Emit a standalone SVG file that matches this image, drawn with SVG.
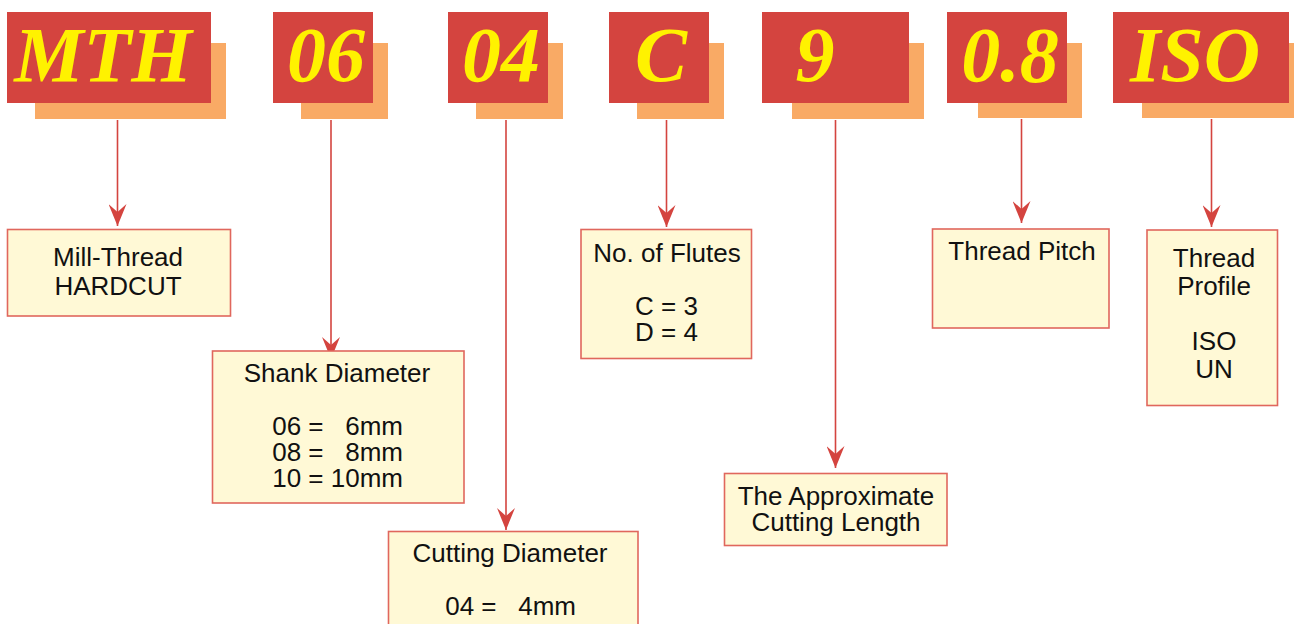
<svg xmlns="http://www.w3.org/2000/svg" width="1294" height="624" viewBox="0 0 1294 624">
<style>
.red{fill:#D4443F}
.org{fill:#F9AA65}
.big{font-family:"Liberation Serif",serif;font-weight:bold;font-style:italic;font-size:78px;fill:#FFF200;text-anchor:middle}
.box{fill:#FFF9D6;stroke:#E0675D;stroke-width:1.6}
.t{font-family:"Liberation Sans",Arial,sans-serif;font-size:26px;fill:#111;text-anchor:middle;white-space:pre}
.e{text-anchor:end}
.con line{stroke:#D4443F;stroke-width:1.6}
</style>
<defs>
<marker id="ah" markerUnits="userSpaceOnUse" markerWidth="24" markerHeight="18" viewBox="0 0 24 18" refX="22" refY="9" orient="auto">
<path d="M0,0 L22,9 L0,18 L8,9 Z" fill="#D4443F"/>
</marker>
</defs>
<rect width="1294" height="624" fill="#fff"/>
<g id="code-mth"><rect class="org" x="35" y="43" width="191" height="76"/><rect class="red" x="7" y="12" width="204" height="91"/><text class="big" x="103" y="81">MTH</text></g>
<g id="code-06"><rect class="org" x="301" y="43" width="87" height="76"/><rect class="red" x="273" y="12" width="100" height="91"/><text class="big" x="326" y="81">06</text></g>
<g id="code-04"><rect class="org" x="476" y="43" width="87" height="76"/><rect class="red" x="448" y="12" width="100" height="91"/><text class="big" x="501" y="81">04</text></g>
<g id="code-c"><rect class="org" x="637" y="43" width="87" height="76"/><rect class="red" x="609" y="12" width="100" height="91"/><text class="big" x="661" y="81">C</text></g>
<g id="code-9"><rect class="org" x="792" y="43" width="132" height="76"/><rect class="red" x="762" y="12" width="147" height="91"/><text class="big" x="815" y="81">9</text></g>
<g id="code-08"><rect class="org" x="978" y="43" width="104" height="75"/><rect class="red" x="947" y="12" width="120" height="91"/><text class="big" x="1010" y="81">0.8</text></g>
<g id="code-iso"><rect class="org" x="1142" y="43" width="152" height="75"/><rect class="red" x="1113" y="12" width="176" height="91"/><text class="big" x="1195" y="81">ISO</text></g>

<g id="connectors" class="con">
<line x1="117.5" y1="120" x2="117.5" y2="226" marker-end="url(#ah)"/>
<line x1="331" y1="120" x2="331" y2="359" marker-end="url(#ah)"/>
<line x1="506" y1="120" x2="506" y2="530" marker-end="url(#ah)"/>
<line x1="666.5" y1="120" x2="666.5" y2="227" marker-end="url(#ah)"/>
<line x1="835.5" y1="120" x2="835.5" y2="468" marker-end="url(#ah)"/>
<line x1="1021.5" y1="119" x2="1021.5" y2="223" marker-end="url(#ah)"/>
<line x1="1211.5" y1="119" x2="1211.5" y2="227" marker-end="url(#ah)"/>
</g>

<g id="mill-thread"><rect class="box" x="7.5" y="229.5" width="223" height="86.5"/><text class="t" x="118" y="266">Mill-Thread</text><text class="t" x="118" y="295">HARDCUT</text></g>
<g id="shank"><rect class="box" x="212.5" y="351" width="251.5" height="152"/><text class="t" x="337" y="382">Shank Diameter</text>
<text class="t e" x="403" y="435" xml:space="preserve">06 = &#x2007;6mm</text>
<text class="t e" x="403" y="461" xml:space="preserve">08 = &#x2007;8mm</text>
<text class="t e" x="403" y="487">10 = 10mm</text></g>
<g id="cutting"><rect class="box" x="388.5" y="531.5" width="249.5" height="110"/><text class="t" x="510" y="562">Cutting Diameter</text><text class="t e" x="576" y="615" xml:space="preserve">04 = &#x2007;4mm</text></g>
<g id="flutes"><rect class="box" x="581" y="229.5" width="170.5" height="129"/><text class="t" x="667" y="262">No. of Flutes</text><text class="t" x="666.5" y="315">C = 3</text><text class="t" x="666.5" y="341">D = 4</text></g>
<g id="length"><rect class="box" x="724.5" y="473.5" width="222.5" height="72"/><text class="t" x="836" y="505">The Approximate</text><text class="t" x="836" y="531">Cutting Length</text></g>
<g id="pitch"><rect class="box" x="932.5" y="229" width="176.5" height="99"/><text class="t" x="1022" y="260">Thread Pitch</text></g>
<g id="profile"><rect class="box" x="1147" y="230" width="130.5" height="175.5"/><text class="t" x="1214" y="267">Thread</text><text class="t" x="1214" y="295">Profile</text><text class="t" x="1214" y="350">ISO</text><text class="t" x="1214" y="378">UN</text></g>
</svg>
